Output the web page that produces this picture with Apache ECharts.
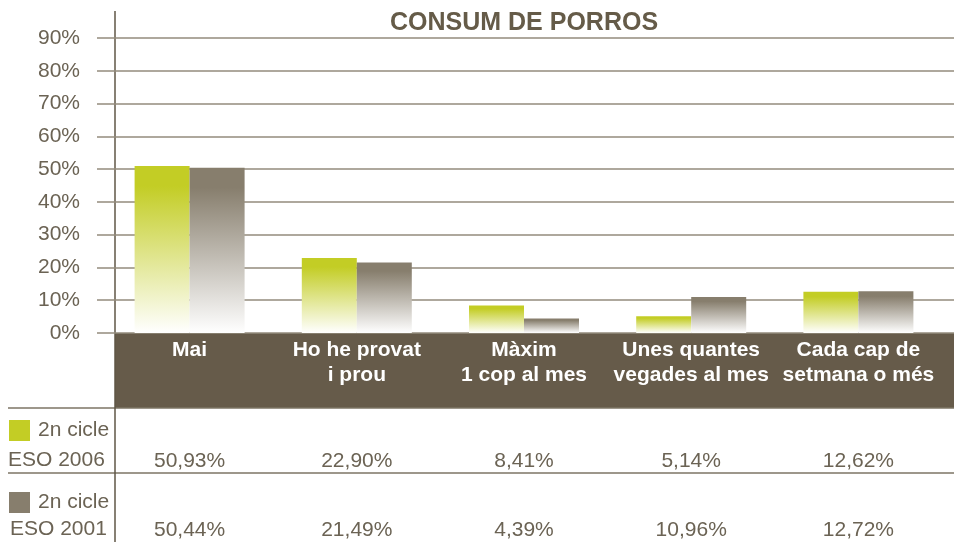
<!DOCTYPE html>
<html>
<head>
<meta charset="utf-8">
<script src="https://cdn.jsdelivr.net/npm/echarts@6/dist/echarts.min.js"></script>
<style>
  html, body { margin: 0; padding: 0; background: #fff; }
  #chart { width: 954px; height: 542px; }
</style>
</head>
<body>
<div id="chart"></div>
<script>
// dades del gràfic
var categories = ['Mai', 'Ho he provat\ni prou', 'Màxim\n1 cop al mes', 'Unes quantes\nvegades al mes', 'Cada cap de\nsetmana o més'];
var seriesNames = ['ESO 2006', 'ESO 2001'];
var eso2006 = [50.93, 22.90, 8.41, 5.14, 12.62];
var eso2001 = [50.44, 21.49, 4.39, 10.96, 12.72];
var yTicks = [0, 10, 20, 30, 40, 50, 60, 70, 80, 90];

var green = '#c3cd25';
var gray = '#877e6d';
var brown = '#665b4a';
var textColor = '#6b6354';
var font = '"Liberation Sans", Arial, sans-serif';

function fmt(v) {
  return v.toFixed(2).replace('.', ',') + '%';
}

function fade(c) {
  return new echarts.graphic.LinearGradient(0, 0, 0, 1, [
    { offset: 0, color: c },
    { offset: 0.12, color: c },
    { offset: 1, color: '#ffffff' }
  ]);
}

var myChart = echarts.init(document.getElementById('chart'));

var option = {
  animation: false,
  title: {
    text: 'CONSUM DE PORROS',
    left: 390,
    top: 11,
    padding: 0,
    textStyle: { fontFamily: font, fontSize: 25, fontWeight: 'bold', color: '#655b48' }
  },
  legend: {
    orient: 'vertical',
    left: 9,
    top: 420,
    padding: 0,
    itemWidth: 21,
    itemHeight: 21,
    itemGap: 51,
    icon: 'rect',
    selectedMode: false,
    data: [
      { name: seriesNames[0], itemStyle: { color: green } },
      { name: seriesNames[1], itemStyle: { color: gray } }
    ],
    formatter: function () { return '2n cicle'; },
    textStyle: { fontFamily: font, fontSize: 21, lineHeight: 21, color: textColor, padding: [0, 0, 0, 3] }
  },
  grid: [
    // eix y i línies de quadrícula
    { left: 97, right: 0, top: 38, bottom: 209 },
    // barres
    { left: 106, right: 12, top: 38, bottom: 209 },
    // fila ESO 2006
    { left: 106, right: 12, top: 400, bottom: 92 },
    // fila ESO 2001
    { left: 106, right: 12, top: 470, bottom: 23 }
  ],
  xAxis: [
    { gridIndex: 0, type: 'category', data: categories, show: false },
    {
      gridIndex: 1, type: 'category', data: categories,
      axisLine: { show: false }, axisTick: { show: false },
      axisLabel: {
        margin: 5, interval: 0, verticalAlign: 'top',
        fontFamily: font, fontSize: 21, fontWeight: 'bold', lineHeight: 25, color: '#ffffff'
      }
    },
    {
      gridIndex: 2, type: 'category', data: categories,
      axisLine: { show: false }, axisTick: { show: false },
      axisLabel: {
        margin: 0, interval: 0, verticalAlign: 'top',
        fontFamily: font, fontSize: 21, lineHeight: 22, color: textColor,
        formatter: function (v, i) { return fmt(eso2006[i]); }
      }
    },
    {
      gridIndex: 3, type: 'category', data: categories,
      axisLine: { show: false }, axisTick: { show: false },
      axisLabel: {
        margin: 0, interval: 0, verticalAlign: 'top',
        fontFamily: font, fontSize: 21, lineHeight: 22, color: textColor,
        formatter: function (v, i) { return fmt(eso2001[i]); }
      }
    }
  ],
  yAxis: [
    {
      gridIndex: 0, type: 'value', min: yTicks[0], max: yTicks[yTicks.length - 1], interval: 10,
      axisLine: { show: false }, axisTick: { show: false },
      axisLabel: {
        margin: 17, fontFamily: font, fontSize: 21, color: textColor,
        formatter: '{value}%'
      },
      splitLine: { lineStyle: { color: '#938b7c', width: 1.5 } }
    },
    { gridIndex: 1, type: 'value', min: 0, max: 90, show: false },
    { gridIndex: 2, type: 'value', show: false },
    { gridIndex: 3, type: 'value', show: false }
  ],
  series: [
    {
      name: seriesNames[0], type: 'bar', xAxisIndex: 1, yAxisIndex: 1,
      barWidth: 55, barGap: '0%',
      itemStyle: { color: fade(green) },
      data: eso2006
    },
    {
      name: seriesNames[1], type: 'bar', xAxisIndex: 1, yAxisIndex: 1,
      barWidth: 55, barGap: '0%',
      itemStyle: { color: fade(gray) },
      data: eso2001
    }
  ],
  graphic: [
    { type: 'rect', z: -10, shape: { x: 115, y: 333, width: 839, height: 75 }, style: { fill: brown } },
    { type: 'line', shape: { x1: 8, y1: 408, x2: 954, y2: 408 }, style: { stroke: '#7d7465', lineWidth: 1.5 } },
    { type: 'line', shape: { x1: 8, y1: 473, x2: 954, y2: 473 }, style: { stroke: '#7d7465', lineWidth: 1.5 } },
    { type: 'line', shape: { x1: 115, y1: 11, x2: 115, y2: 542 }, style: { stroke: '#5f5646', lineWidth: 1.5 } },
    {
      type: 'text', left: 8, top: 450,
      style: { text: 'ESO 2006', fontFamily: font, fontSize: 21, fill: textColor }
    },
    {
      type: 'text', left: 10, top: 519,
      style: { text: 'ESO 2001', fontFamily: font, fontSize: 21, fill: textColor }
    }
  ]
};

myChart.setOption(option);
</script>
</body>
</html>
